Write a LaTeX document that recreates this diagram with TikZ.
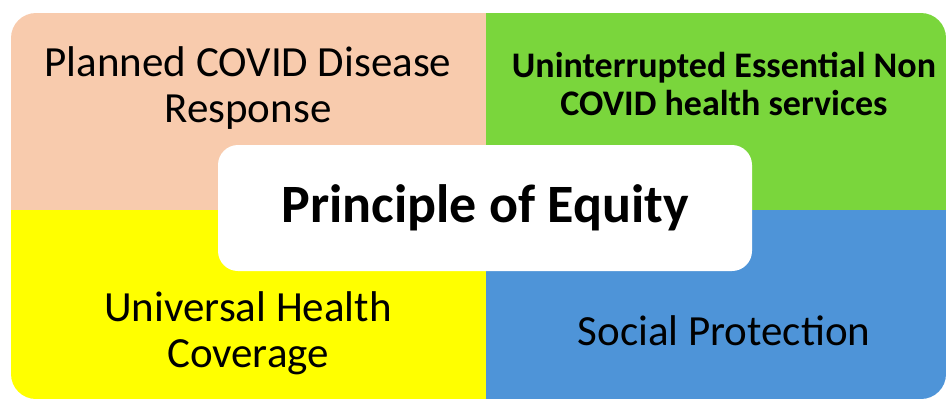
\documentclass[tikz,border=0pt]{standalone}
\usepackage{fontspec}
\setmainfont{Carlito}
\usepackage{tikz}
\usetikzlibrary{positioning}
\definecolor{peach}{HTML}{F8CBAD}
\definecolor{leafgreen}{HTML}{7AD63C}
\definecolor{lemon}{HTML}{FFFF00}
\definecolor{skyblue}{HTML}{4E94D8}

\begin{document}
\begin{tikzpicture}[x=1pt,y=-1pt]
\tikzstyle{quad}=[align=center,font=\fontsize{43}{46}\selectfont]
\tikzstyle{quadbold}=[align=center,font=\bfseries\fontsize{36}{38}\selectfont]
\tikzstyle{hub}=[rectangle,rounded corners=20pt,fill=white,minimum width=534pt,minimum height=126pt,font=\bfseries\fontsize{54}{58}\selectfont]
\useasboundingbox (0,0) rectangle (950,400);
% four quadrants
\begin{scope}
\clip[rounded corners=25pt] (11,13) rectangle (946,399);
\fill[peach] (11,13) rectangle (486,210);
\fill[leafgreen] (486,13) rectangle (946,210);
\fill[lemon] (11,210) rectangle (486,399);
\fill[skyblue] (486,210) rectangle (946,399);
\end{scope}
\node[quad] (plan) at (248,88) {Planned COVID Disease\\Response};
\node[quadbold] (essential) at (724,84) {Uninterrupted Essential Non\\COVID health services};
\node[quad] (uhc) at (248,333) {Universal Health\\Coverage};
\node[quad] (social) at (724,331) {Social Protection};
% centre
\node[hub] (equity) at (485,208) {\raisebox{-3pt}{Principle of Equity}};
\end{tikzpicture}
\end{document}
